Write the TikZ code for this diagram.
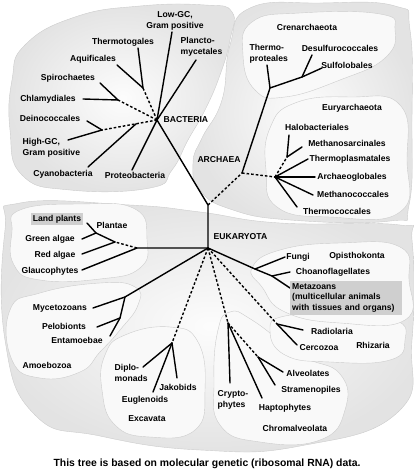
\documentclass[tikz,border=0pt]{standalone}
\usepackage{fontspec}
\setmainfont{Liberation Sans}
\usetikzlibrary{calc}

\begin{document}
\begin{tikzpicture}[
    x=1pt, y=-1pt,
    font=\bfseries\fontsize{8.6}{10.8}\selectfont,
    outerblob/.style={draw=gray!40, line width=0.4pt, inner color=gray!2, outer color=gray!22},
    innerblob/.style={draw=gray!40, line width=0.4pt, fill=gray!5},
    branch/.style={line width=1.4pt, line cap=round},
    hidden/.style={line width=1.4pt, dash pattern=on 2.6pt off 2pt},
    taxon/.style={inner sep=0.5pt, align=center},
    greybox/.style={taxon, fill=gray!38, inner sep=2pt}
]
\useasboundingbox (0,0) rectangle (413,476);

% ── Domain Blobs ──
\shadedraw[outerblob] plot[smooth cycle, tension=0.8] coordinates {
    (25,45) (75,17) (140,6) (205,5) (232,12) (230,40) (220,75) (205,110)
    (188,140) (172,170) (150,188) (70,190) (22,175) (10,130) (12,80)};
\shadedraw[outerblob] plot[smooth cycle, tension=0.8] coordinates {
    (250,8) (320,3) (395,6) (410,30) (412,120) (409,205) (390,221)
    (290,220) (230,209) (200,190) (193,163) (202,138) (222,100) (230,45)};
\shadedraw[outerblob] plot[smooth cycle, tension=0.8] coordinates {
    (20,203) (130,205) (200,212) (280,223) (400,225) (412,240) (412,340)
    (398,412) (300,446) (200,450) (100,436) (35,415) (5,340) (5,230)};

% ── Group Blobs ──
\filldraw[innerblob] plot[smooth cycle, tension=0.8] coordinates {
    (252,22) (300,13) (380,14) (395,30) (385,58) (340,80) (285,97) (255,90) (243,55)};
\filldraw[innerblob] plot[smooth cycle, tension=0.8] coordinates {
    (270,128) (295,103) (350,97) (400,105) (407,160) (400,212) (330,217) (277,207) (266,170)};
\filldraw[innerblob] plot[smooth cycle, tension=0.8] coordinates {
    (20,210) (80,204) (135,209) (147,240) (140,268) (100,279) (40,280) (14,265) (12,232)};
\filldraw[innerblob] plot[smooth cycle, tension=0.8] coordinates {
    (10,310) (40,293) (100,283) (135,287) (138,305) (120,330) (100,352) (80,372) (40,378) (12,360)};
\filldraw[innerblob] plot[smooth cycle, tension=0.8] coordinates {
    (105,355) (125,335) (170,327) (198,342) (205,390) (195,430) (150,437) (115,425) (102,390)};
\filldraw[innerblob] plot[smooth cycle, tension=0.8] coordinates {
    (218,330) (230,312) (252,320) (300,355) (340,374) (345,410) (320,440) (260,442) (220,425) (214,380)};
\filldraw[innerblob] plot[smooth cycle, tension=0.8] coordinates {
    (270,330) (285,316) (340,315) (395,320) (405,340) (390,360) (330,362) (285,355)};
\filldraw[innerblob] plot[smooth cycle, tension=0.8] coordinates {
    (252,268) (280,250) (340,243) (400,247) (409,280) (405,320) (340,323) (285,312) (262,287)};

% ── Tree Points ──
\coordinate (bac) at (157,120);
\coordinate (jn) at (208,205);
\coordinate (euk) at (208,248);
\coordinate (arc) at (242,173);

\coordinate (lowgcT) at (172,32);
\coordinate (planctoT) at (196,60);
\coordinate (thgJ) at (143,88);
\coordinate (thgT) at (138,48);
\coordinate (aquT) at (117,65);
\coordinate (spiJ) at (118,100);
\coordinate (spiT) at (100,83);
\coordinate (chlT) at (83,99);
\coordinate (deiJ) at (102,130);
\coordinate (deiT) at (87,121);
\coordinate (hgcT) at (68,140);
\coordinate (cyaJ) at ($(deiJ)!0.62!(bac)$);
\coordinate (cyaT) at (88,167);
\coordinate (proT) at (132,170);

\coordinate (creJ) at (270,88);
\coordinate (thpT) at (267,65);
\coordinate (desJ) at (302,77);
\coordinate (desT) at (312,55);
\coordinate (sulT) at (322,68);
\coordinate (eurJ) at (275,177);
\coordinate (halJ) at (287,157);
\coordinate (halT) at (289,135);
\coordinate (msaT) at (302,147);
\coordinate (tplT) at (308,159);
\coordinate (agbT) at (315,177);
\coordinate (mccT) at (313,195);
\coordinate (tccT) at (297,207);

\coordinate (glaJ) at (137,248);
\coordinate (plaJ) at (115,242);
\coordinate (lpJ) at (96,233);
\coordinate (lpT) at (87,223);
\coordinate (graT) at (82,239);
\coordinate (redT) at (82,254);
\coordinate (glaT) at (82,270);
\coordinate (amJ) at (125,297);
\coordinate (pelJ) at (120,318);
\coordinate (myxT) at (93,308);
\coordinate (pelT) at (97,327);
\coordinate (entT) at (110,336);
\coordinate (excJ) at (172,343);
\coordinate (dipT) at (143,367);
\coordinate (eugT) at (153,392);
\coordinate (jakT) at (177,378);
\coordinate (chrJ) at (228,323);
\coordinate (cryT) at (230,383);
\coordinate (hapT) at (262,398);
\coordinate (alsJ) at (258,357);
\coordinate (alvT) at (283,372);
\coordinate (strT) at (275,385);
\coordinate (rhiJ) at (277,324);
\coordinate (radT) at (303,330);
\coordinate (cerT) at (297,345);
\coordinate (opiJ) at (255,269);
\coordinate (choJ) at (272,276);
\coordinate (funT) at (285,257);
\coordinate (choT) at (290,272);
\coordinate (metT) at (290,288);

% ── Trunk ──
\draw[branch] (bac) -- (jn) -- (euk);
\draw[hidden] (jn) -- (arc);

% ── Bacteria ──
\draw[branch] (bac) -- (lowgcT);
\draw[branch] (bac) -- (planctoT);
\draw[hidden] (bac) -- (thgJ);
\draw[branch] (thgJ) -- (thgT);
\draw[branch] (thgJ) -- (aquT);
\draw[hidden] (bac) -- (spiJ);
\draw[branch] (spiJ) -- (spiT);
\draw[branch] (spiJ) -- (chlT);
\draw[hidden] (bac) -- (deiJ);
\draw[branch] (deiJ) -- (deiT);
\draw[branch] (deiJ) -- (hgcT);
\draw[branch] (cyaJ) -- (cyaT);
\draw[branch] (bac) -- (proT);

% ── Archaea ──
\draw[branch] (arc) -- (creJ) -- (thpT);
\draw[branch] (creJ) -- (desJ) -- (desT);
\draw[branch] (desJ) -- (sulT);
\draw[hidden] (arc) -- (eurJ);
\draw[hidden] (eurJ) -- (halJ);
\draw[branch] (halJ) -- (halT);
\draw[branch] (halJ) -- (msaT);
\draw[branch] (eurJ) -- (tplT);
\draw[branch] (eurJ) -- (agbT);
\draw[branch] (eurJ) -- (mccT);
\draw[branch] (eurJ) -- (tccT);

% ── Eukaryota ──
\draw[branch] (euk) -- (glaJ) -- (glaT);
\draw[hidden] (glaJ) -- (plaJ);
\draw[branch] (plaJ) -- (redT);
\draw[branch] (plaJ) -- (lpJ) -- (lpT);
\draw[branch] (lpJ) -- (graT);
\draw[branch] (euk) -- (amJ) -- (myxT);
\draw[branch] (amJ) -- (pelJ) -- (entT);
\draw[branch] (pelJ) -- (pelT);
\draw[hidden] (euk) -- (excJ);
\draw[branch] (excJ) -- (dipT);
\draw[branch] (excJ) -- (eugT);
\draw[branch] (excJ) -- (jakT);
\draw[hidden] (euk) -- (chrJ);
\draw[branch] (chrJ) -- (cryT);
\draw[branch] (chrJ) -- (hapT);
\draw[hidden] (chrJ) -- (alsJ);
\draw[branch] (alsJ) -- (alvT);
\draw[branch] (alsJ) -- (strT);
\draw[hidden] (euk) -- (rhiJ);
\draw[branch] (rhiJ) -- (radT);
\draw[branch] (rhiJ) -- (cerT);
\draw[branch] (euk) -- (opiJ) -- (choJ) -- (metT);
\draw[branch] (opiJ) -- (funT);
\draw[branch] (choJ) -- (choT);

% ── Bacteria Labels ──
\node[taxon, anchor=west] (bacteria) at (163,120) {BACTERIA};
\node[taxon] (lowgc) at (175,21) {Low-GC,\\Gram positive};
\node[taxon, anchor=west, align=left] (plancto) at (180,47) {Plancto-\\mycetales};
\node[taxon] (thermotogales) at (123,42) {Thermotogales};
\node[taxon] (aquificales) at (93,59) {Aquificales};
\node[taxon] (spirochaetes) at (68,78) {Spirochaetes};
\node[taxon] (chlamydiales) at (48,99) {Chlamydiales};
\node[taxon] (deinococcales) at (50,118) {Deinococcales};
\node[taxon, anchor=west, align=left] (highgc) at (22,148) {High-GC,\\Gram positive};
\node[taxon] (cyanobacteria) at (63,174) {Cyanobacteria};
\node[taxon] (proteobacteria) at (135,175) {Proteobacteria};

% ── Archaea Labels ──
\node[taxon] (archaea) at (219,160) {ARCHAEA};
\node[taxon] (crenarch) at (307,27) {Crenarchaeota};
\node[taxon, anchor=west, align=left] (thermoprot) at (249,54) {Thermo-\\proteales};
\node[taxon] (desulfuro) at (340,48) {Desulfurococcales};
\node[taxon] (sulfolob) at (347,65) {Sulfolobales};
\node[taxon] (euryarch) at (352,108) {Euryarchaeota};
\node[taxon] (halobact) at (317,127) {Halobacteriales};
\node[taxon] (methanosarc) at (347,143) {Methanosarcinales};
\node[taxon] (thermoplasm) at (350,159) {Thermoplasmatales};
\node[taxon] (archaeoglob) at (352,177) {Archaeoglobales};
\node[taxon] (methanococc) at (353,194) {Methanococcales};
\node[taxon] (thermococc) at (337,211) {Thermococcales};

% ── Eukaryota Labels ──
\node[taxon, anchor=west] (eukaryota) at (213,237) {EUKARYOTA};
\node[greybox] (landplants) at (57,219) {Land plants};
\node[taxon] (plantae) at (112,225) {Plantae};
\node[taxon] (greenalgae) at (50,239) {Green algae};
\node[taxon] (redalgae) at (55,255) {Red algae};
\node[taxon] (glaucophytes) at (50,271) {Glaucophytes};
\node[taxon] (mycetozoans) at (60,308) {Mycetozoans};
\node[taxon] (pelobionts) at (64,326) {Pelobionts};
\node[taxon] (entamoebae) at (77,340) {Entamoebae};
\node[taxon] (amoebozoa) at (47,365) {Amoebozoa};
\node[taxon, anchor=west, align=left] (diplomonads) at (114,373) {Diplo-\\monads};
\node[taxon] (jakobids) at (178,387) {Jakobids};
\node[taxon] (euglenoids) at (145,400) {Euglenoids};
\node[taxon] (excavata) at (147,419) {Excavata};
\node[taxon, anchor=west, align=left] (cryptophytes) at (217,400) {Crypto-\\phytes};
\node[taxon] (haptophytes) at (285,408) {Haptophytes};
\node[taxon] (alveolates) at (308,373) {Alveolates};
\node[taxon] (stramenopiles) at (311,390) {Stramenopiles};
\node[taxon] (chromalveolata) at (295,428) {Chromalveolata};
\node[taxon] (radiolaria) at (332,331) {Radiolaria};
\node[taxon] (cercozoa) at (319,348) {Cercozoa};
\node[taxon] (rhizaria) at (373,345) {Rhizaria};
\node[taxon] (fungi) at (298,257) {Fungi};
\node[taxon] (opisthokonta) at (357,256) {Opisthokonta};
\node[taxon] (choano) at (333,272) {Choanoflagellates};
\node[greybox, anchor=north west, align=left, text width=108pt] (metazoans) at (290,281)
    {Metazoans\\(multicellular animals\\with tissues and organs)};

% ── Caption ──
\node[font=\bfseries\fontsize{10.4}{13}\selectfont] (caption) at (207,464)
    {This tree is based on molecular genetic (ribosomal RNA) data.};
\end{tikzpicture}
\end{document}
